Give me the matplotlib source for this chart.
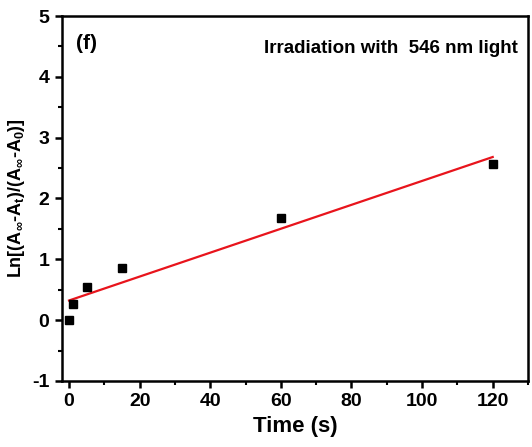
import matplotlib
matplotlib.use("Agg")
import matplotlib.pyplot as plt
import numpy as np
from matplotlib.ticker import MultipleLocator

plt.rcParams["font.family"] = ["Liberation Sans", "DejaVu Sans"]
plt.rcParams["font.weight"] = "bold"
plt.rcParams["axes.unicode_minus"] = False
plt.rcParams["mathtext.fontset"] = "custom"
plt.rcParams["mathtext.rm"] = "Liberation Sans:bold"
plt.rcParams["mathtext.it"] = "Liberation Sans:bold"
plt.rcParams["mathtext.bf"] = "Liberation Sans:bold"
plt.rcParams["mathtext.default"] = "rm"

# data
time_s = [0, 1, 5, 15, 60, 120]
ln_ratio = [0.0, 0.26, 0.54, 0.85, 1.68, 2.56]

# linear fit (red line)
slope, intercept = np.polyfit(time_s, ln_ratio, 1)
fit_x = np.array([0, 120])
fit_y = slope * fit_x + intercept

fig = plt.figure(figsize=(5.32, 4.47), dpi=100)
ax = fig.add_axes([0.1165, 0.1477, 0.876, 0.8165])

ax.plot(fit_x, fit_y, color="#e8141c", lw=1.6, zorder=2)
ax.plot(time_s, ln_ratio, "s", color="black", markersize=6, zorder=3)

ax.set_xlim(-2, 130)
ax.set_ylim(-1, 5)
ax.xaxis.set_major_locator(MultipleLocator(20))
ax.xaxis.set_minor_locator(MultipleLocator(10))
ax.yaxis.set_major_locator(MultipleLocator(1))
ax.yaxis.set_minor_locator(MultipleLocator(0.5))

for s in ax.spines.values():
    s.set_linewidth(1.8)
ax.tick_params(which="major", direction="out", length=5, width=1.8,
               labelsize=14, top=False, right=False, pad=4)
ax.tick_params(which="minor", direction="out", length=3, width=1.5,
               top=False, right=False)
for lab in ax.get_xticklabels() + ax.get_yticklabels():
    lab.set_fontweight("bold")

ax.set_xlabel("Time (s)", fontsize=16, fontweight="bold", labelpad=4)
ax.set_ylabel(r"Ln[(A$_{\infty}$-A$_{t}$)/(A$_{\infty}$-A$_{0}$)]",
              fontsize=13, fontweight="bold", labelpad=4)

ax.text(0.03, 0.925, "(f)", transform=ax.transAxes, fontsize=15,
        fontweight="bold", va="center", ha="left")
ax.text(0.978, 0.91, "Irradiation with  546 nm light", transform=ax.transAxes,
        fontsize=13.5, fontweight="bold", va="center", ha="right")

fig.savefig("out.png", dpi=100)
